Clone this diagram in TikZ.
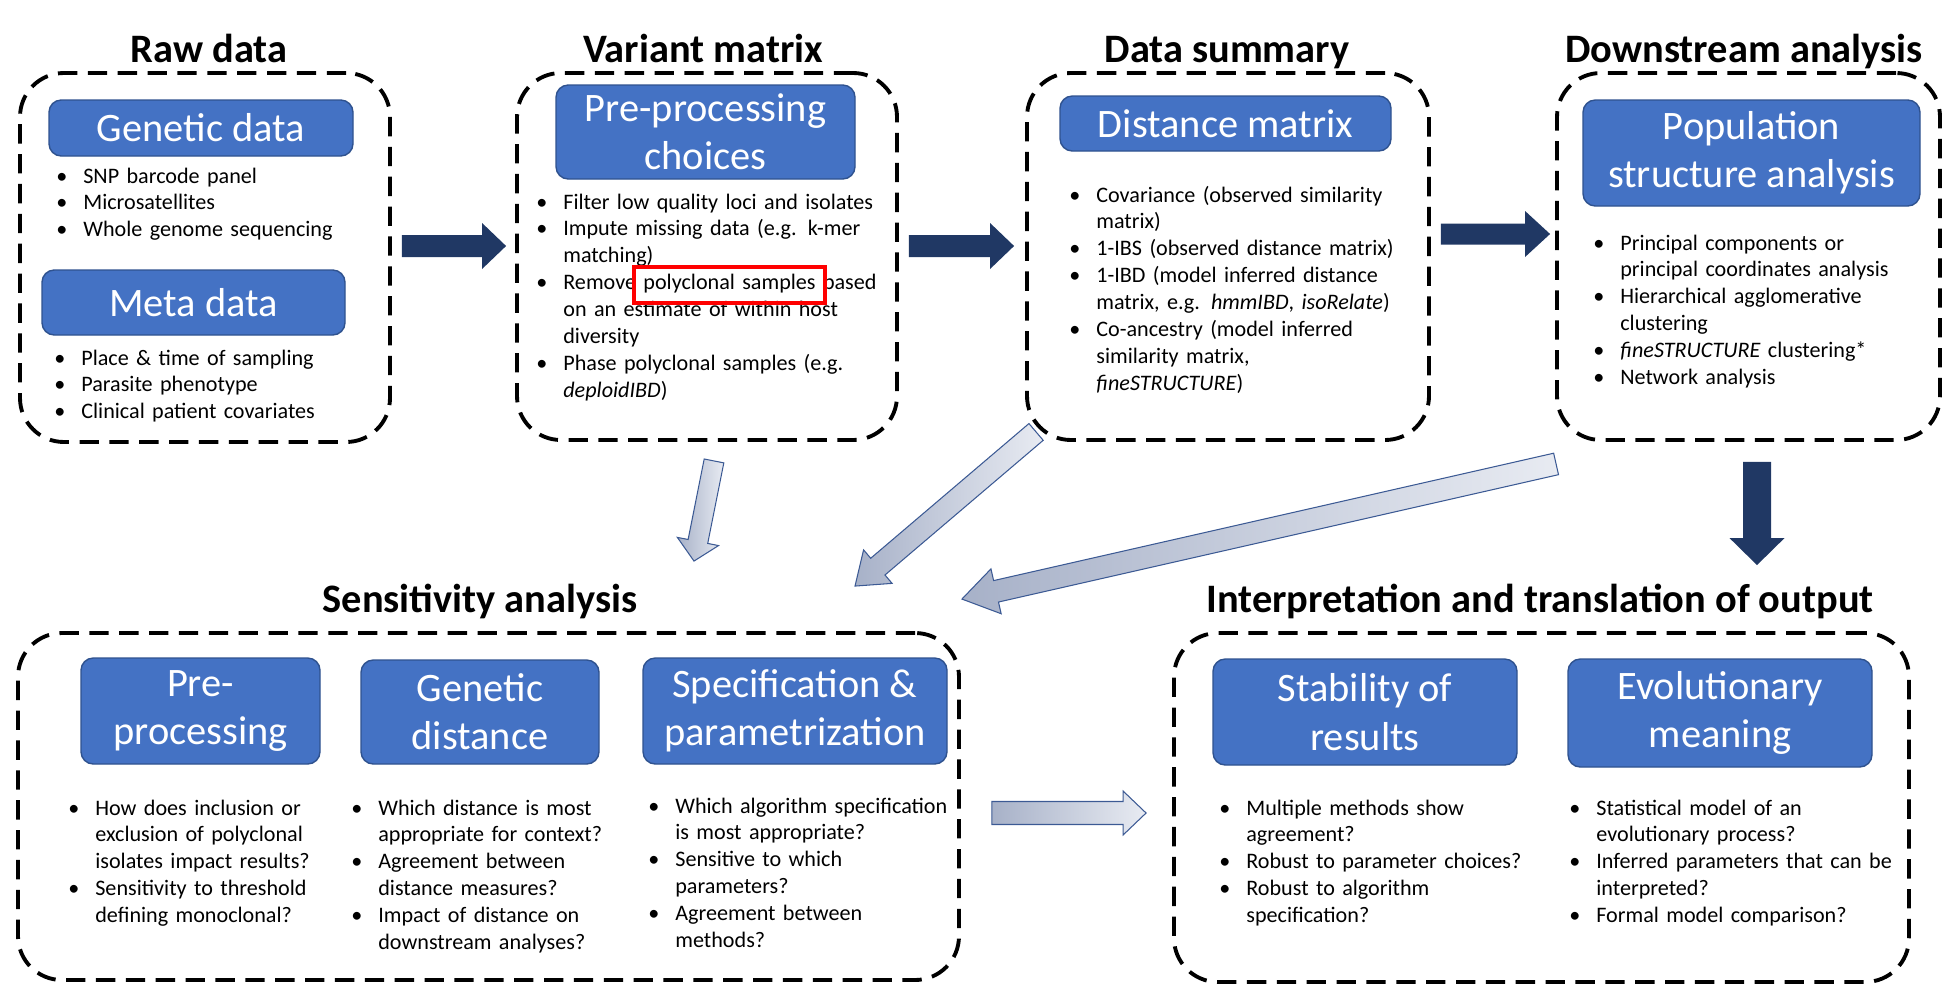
\documentclass[tikz,border=0pt]{standalone}
\usepackage{fontspec}
\setmainfont{Carlito}
\usetikzlibrary{calc}
\definecolor{hdrfill}{HTML}{4472C4}
\definecolor{hdredge}{HTML}{2F528F}
\definecolor{navy}{HTML}{203864}
\definecolor{arrlight}{HTML}{E8EBF2}
\definecolor{arrdark}{HTML}{A7B1C8}
\definecolor{arredge}{HTML}{3C5A94}
\newcommand{\px}{0.02cm}
\newlength{\bgap}\setlength{\bgap}{0.54cm}
\newcommand{\itm}[1]{\hangindent=\bgap\hangafter=1\makebox[\bgap][l]{\textbullet}#1\par}
\newcommand{\brk}{\hfil\break}
\newcommand{\blockarr}[6]{%
  \path (#2) coordinate (ba-t) (#3) coordinate (ba-h);
  \path ($(ba-h)!#6!(ba-t)$) coordinate (ba-b);
  \path[#1] ($(ba-t)!#4!90:(ba-h)$) -- ($(ba-b)!#4!90:(ba-h)$) -- ($(ba-b)!#5!90:(ba-h)$) -- (ba-h)
    -- ($(ba-b)!#5!-90:(ba-h)$) -- ($(ba-b)!#4!-90:(ba-h)$) -- ($(ba-t)!#4!-90:(ba-h)$) -- cycle;}
\begin{document}
\begin{tikzpicture}[x=0.02cm, y=-0.02cm,
  panel/.style 2 args={draw, line width=2.2pt, dash pattern=on 11pt off 6pt, rounded corners=25pt, inner sep=0pt, minimum width=#1*\px, minimum height=#2*\px},
  hdr/.style 2 args={draw=hdredge, fill=hdrfill, line width=0.8pt, rounded corners=7pt, text=white, align=center, inner sep=0pt, minimum width=#1*\px, minimum height=#2*\px, font=\fontsize{23pt}{27.5pt}\selectfont},
  ttl/.style={anchor=base, inner sep=0pt, font=\bfseries\fontsize{23pt}{28pt}\selectfont},
  lst/.style={anchor=base west, inner sep=0pt, text width=7cm, align=left, font=\fontsize{12.6pt}{15.3pt}\selectfont},
  darkarr/.style={fill=navy},
  lightarr/.style={draw=arredge, line width=0.6pt, left color=arrdark, right color=arrlight}]
\useasboundingbox (0,0) rectangle (1944,984);

\node[ttl] (traw) at (209,62) {Raw data};
\node[ttl] (tvar) at (703,62) {Variant matrix};
\node[ttl] (tsum) at (1227,62) {Data summary};
\node[ttl] (tdown) at (1744,62) {Downstream analysis};
\node[ttl] (tsens) at (480,612) {Sensitivity analysis};
\node[ttl] (tinterp) at (1540,612) {Interpretation and translation of output};

\node[panel={370}{369}] (raw) at (205,257.5) {};
\node[panel={380}{367}] (var) at (707,256.5) {};
\node[panel={402}{367}] (sum) at (1228,256.5) {};
\node[panel={383}{367}] (down) at (1748.5,256.5) {};
\node[panel={941}{347}] (sens) at (488.5,806.5) {};
\node[panel={735}{349}] (interp) at (1541.5,807.5) {};

\node[hdr={304}{56}] (gen) at (201,128) {Genetic data};
\node[hdr={303}{65}] (meta) at (193.5,302.5) {Meta data};
\node[hdr={299}{94}] (prep) at (705.5,132) {Pre-processing\\choices};
\node[hdr={331}{55}] (dist) at (1225.5,123.5) {Distance matrix};
\node[hdr={337}{106}] (pop) at (1751.5,153) {Population\\structure analysis};
\node[hdr={239}{106}] (spre) at (200.5,711) {Pre-\\processing};
\node[hdr={238}{104}] (sgen) at (480,712) {Genetic\\distance};
\node[hdr={304}{106}] (sspec) at (795,711) {Specification \&\\parametrization};
\node[hdr={304}{106}] (stab) at (1365,712) {Stability of\\results};
\node[hdr={304}{108}] (evo) at (1720,713) {Evolutionary\\meaning};

\node[lst] (genlist) at (56,183) {\itm{SNP barcode panel}\itm{Microsatellites}\itm{Whole genome sequencing}};
\node[lst] (metalist) at (54,365) {\itm{Place \& time of sampling}\itm{Parasite phenotype}\itm{Clinical patient covariates}};
\node[lst] (preplist) at (536,209) {\itm{Filter low quality loci and isolates}\itm{Impute missing data (e.g. k-mer\brk matching)}\itm{Remove polyclonal samples based\brk on an estimate of within host\brk diversity}\itm{Phase polyclonal samples (e.g.\brk \textit{deploidIBD})}};
\node[lst] (distlist) at (1069,202) {\itm{Covariance (observed similarity\brk matrix)}\itm{1-IBS (observed distance matrix)}\itm{1-IBD (model inferred distance\brk matrix, e.g. \textit{hmmIBD}, \textit{isoRelate})}\itm{Co-ancestry (model inferred\brk similarity matrix,\brk \textit{fineSTRUCTURE})}};
\node[lst] (poplist) at (1593,250) {\itm{Principal components or\brk principal coordinates analysis}\itm{Hierarchical agglomerative\brk clustering}\itm{\textit{fineSTRUCTURE} clustering*}\itm{Network analysis}};
\node[lst] (sprelist) at (68,815) {\itm{How does inclusion or\brk exclusion of polyclonal\brk isolates impact results?}\itm{Sensitivity to threshold\brk defining monoclonal?}};
\node[lst] (sgenlist) at (351,815) {\itm{Which distance is most\brk appropriate for context?}\itm{Agreement between\brk distance measures?}\itm{Impact of distance on\brk downstream analyses?}};
\node[lst] (sspeclist) at (648,813) {\itm{Which algorithm specification\brk is most appropriate?}\itm{Sensitive to which\brk parameters?}\itm{Agreement between\brk methods?}};
\node[lst] (stablist) at (1219,815) {\itm{Multiple methods show\brk agreement?}\itm{Robust to parameter choices?}\itm{Robust to algorithm\brk specification?}};
\node[lst] (evolist) at (1569,815) {\itm{Statistical model of an\brk evolutionary process?}\itm{Inferred parameters that can be\brk interpreted?}\itm{Formal model comparison?}};

\draw[red, line width=2pt] (634,267) rectangle (825,303);

\coordinate (a1s) at ($(raw.east)+(10,-11.5)$); \coordinate (a1e) at ($(var.west)+(-9,-10.5)$);
\coordinate (a2s) at ($(var.east)+(10,-10.5)$); \coordinate (a2e) at ($(sum.west)+(-11,-10.5)$);
\coordinate (a3s) at ($(sum.east)+(10,-22.5)$); \coordinate (a3e) at ($(down.west)+(-5,-22.5)$);
\coordinate (a4s) at ($(down.south)+(8.5,20)$); \coordinate (a4e) at ($(interp.north)+(215.5,-66)$);
\blockarr{darkarr}{a1s}{a1e}{0.22cm}{0.46cm}{0.48cm}
\blockarr{darkarr}{a2s}{a2e}{0.22cm}{0.46cm}{0.48cm}
\blockarr{darkarr}{a3s}{a3e}{0.21cm}{0.46cm}{0.5cm}
\blockarr{darkarr}{a4s}{a4e}{0.28cm}{0.55cm}{0.54cm}

\coordinate (l1s) at ($(var.south)+(7,19)$); \coordinate (l1e) at ($(sens.north)+(205.5,-70)$);
\coordinate (l2s) at ($(sum.south west)+(11,-10)$); \coordinate (l2e) at ($(sens.north)+(366.5,-45)$);
\coordinate (l3s) at ($(down.south west)+(1,22)$); \coordinate (l3e) at ($(sens.north east)+(1,-32)$);
\coordinate (l4s) at ($(sens.east)+(31,6.5)$); \coordinate (l4e) at ($(interp.west)+(-26,5.5)$);
\blockarr{lightarr}{l1s}{l1e}{0.2cm}{0.42cm}{0.4cm}
\blockarr{lightarr}{l2s}{l2e}{0.22cm}{0.44cm}{0.6cm}
\blockarr{lightarr}{l3s}{l3e}{0.22cm}{0.46cm}{0.7cm}
\blockarr{lightarr}{l4s}{l4e}{0.23cm}{0.44cm}{0.46cm}
\end{tikzpicture}
\end{document}
